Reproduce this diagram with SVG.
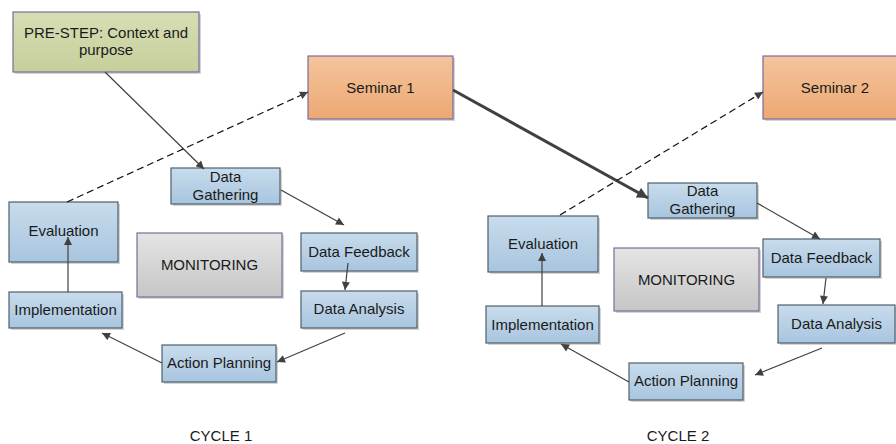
<svg xmlns="http://www.w3.org/2000/svg" width="896" height="444" viewBox="0 0 896 444">
<style>
text{font-family:"Liberation Sans",Arial,sans-serif;font-size:15px;fill:#1a1a1a;text-anchor:middle}
.shadow{fill:#d4d4d4}
.blue{fill:url(#gBlue);stroke:#4f5f6c;stroke-width:1.2}
.orange{fill:url(#gOrange);stroke:#7c6a9c;stroke-width:1.2}
.green{fill:url(#gGreen);stroke:#7c6a9c;stroke-width:1.2}
.gray{fill:url(#gGray);stroke:#7c6a9c;stroke-width:1.2}
.conn{stroke:#404040;stroke-width:1.2;fill:none;marker-end:url(#arr)}
.dash{stroke:#111;stroke-width:1.2;fill:none;stroke-dasharray:7,4;marker-end:url(#arr)}
.thick{stroke:#404040;stroke-width:3;fill:none;marker-end:url(#arrB)}
</style>
<defs>
<linearGradient id="gBlue" x1="0" y1="0" x2="0" y2="1"><stop offset="0" stop-color="#c8dcec"/><stop offset="1" stop-color="#a8c5df"/></linearGradient>
<linearGradient id="gOrange" x1="0" y1="0" x2="0" y2="1"><stop offset="0" stop-color="#f4c49c"/><stop offset="1" stop-color="#eda873"/></linearGradient>
<linearGradient id="gGreen" x1="0" y1="0" x2="0" y2="1"><stop offset="0" stop-color="#d7deb4"/><stop offset="1" stop-color="#c6cf9c"/></linearGradient>
<linearGradient id="gGray" x1="0" y1="0" x2="0" y2="1"><stop offset="0" stop-color="#e4e4e4"/><stop offset="1" stop-color="#c6c6c6"/></linearGradient>
<marker id="arr" viewBox="0 0 10 10" refX="10" refY="5" markerWidth="10" markerHeight="8" markerUnits="userSpaceOnUse" orient="auto"><path d="M0,0 L10,5 L0,10 z" fill="#404040"/></marker>
<marker id="arrB" viewBox="0 0 10 10" refX="10" refY="5" markerWidth="14" markerHeight="11" markerUnits="userSpaceOnUse" orient="auto"><path d="M0,0 L10,5 L0,10 z" fill="#404040"/></marker>
</defs>
<rect width="896" height="444" fill="#fff"/>

<g id="prestep">
<rect class="shadow" x="15" y="14" width="186" height="60"/>
<rect class="green" x="13" y="12" width="186" height="60"/>
<text x="106" y="38">PRE-STEP: Context and</text>
<text x="106" y="55">purpose</text>
</g>

<g id="seminar1">
<rect class="shadow" x="310" y="58" width="145" height="63"/>
<rect class="orange" x="308" y="56" width="145" height="63"/>
<text x="380.5" y="93">Seminar 1</text>
</g>

<g id="seminar2">
<rect class="shadow" x="765" y="58" width="145" height="63"/>
<rect class="orange" x="763" y="56" width="145" height="63"/>
<text x="835" y="93">Seminar 2</text>
</g>

<!-- Cycle 1 -->
<g id="dg1">
<rect class="shadow" x="173" y="170" width="109" height="36"/>
<rect class="blue" x="171" y="168" width="109" height="36"/>
<text x="225.5" y="182">Data</text>
<text x="225.5" y="200">Gathering</text>
</g>
<g id="eval1">
<rect class="shadow" x="11" y="204" width="109" height="60"/>
<rect class="blue" x="9" y="202" width="109" height="60"/>
<text x="63.5" y="236">Evaluation</text>
</g>
<g id="mon1">
<rect class="shadow" x="139" y="235" width="145" height="64"/>
<rect class="gray" x="137" y="233" width="145" height="64"/>
<text x="209.5" y="270">MONITORING</text>
</g>
<g id="df1">
<rect class="shadow" x="303" y="235" width="116" height="38"/>
<rect class="blue" x="301" y="233" width="116" height="38"/>
<text x="359" y="257">Data Feedback</text>
</g>
<g id="da1">
<rect class="shadow" x="303" y="293" width="116" height="37"/>
<rect class="blue" x="301" y="291" width="116" height="37"/>
<text x="359" y="314">Data Analysis</text>
</g>
<g id="impl1">
<rect class="shadow" x="11" y="294" width="113" height="36"/>
<rect class="blue" x="9" y="292" width="113" height="36"/>
<text x="65.5" y="315">Implementation</text>
</g>
<g id="ap1">
<rect class="shadow" x="164" y="347" width="114" height="37"/>
<rect class="blue" x="162" y="345" width="114" height="37"/>
<text x="219" y="368">Action Planning</text>
</g>
<text x="221" y="441">CYCLE 1</text>

<!-- Cycle 2 -->
<g id="dg2">
<rect class="shadow" x="650" y="185" width="109" height="35"/>
<rect class="blue" x="648" y="183" width="109" height="35"/>
<text x="702.5" y="196">Data</text>
<text x="702.5" y="214">Gathering</text>
</g>
<g id="eval2">
<rect class="shadow" x="490" y="218" width="110" height="56"/>
<rect class="blue" x="488" y="216" width="110" height="56"/>
<text x="543" y="249">Evaluation</text>
</g>
<g id="mon2">
<rect class="shadow" x="616" y="250" width="145" height="63"/>
<rect class="gray" x="614" y="248" width="145" height="63"/>
<text x="686.5" y="285">MONITORING</text>
</g>
<g id="df2">
<rect class="shadow" x="765" y="241" width="117" height="38"/>
<rect class="blue" x="763" y="239" width="117" height="38"/>
<text x="821.5" y="263">Data Feedback</text>
</g>
<g id="da2">
<rect class="shadow" x="780" y="307" width="117" height="38"/>
<rect class="blue" x="778" y="305" width="117" height="38"/>
<text x="836.5" y="329">Data Analysis</text>
</g>
<g id="impl2">
<rect class="shadow" x="488" y="308" width="113" height="37"/>
<rect class="blue" x="486" y="306" width="113" height="37"/>
<text x="542.5" y="330">Implementation</text>
</g>
<g id="ap2">
<rect class="shadow" x="631" y="365" width="114" height="37"/>
<rect class="blue" x="629" y="363" width="114" height="37"/>
<text x="686" y="386">Action Planning</text>
</g>
<text x="678" y="441">CYCLE 2</text>

<g id="connectors">
<line class="conn" x1="105" y1="72" x2="204" y2="169"/>
<line class="dash" x1="67" y1="202" x2="308" y2="92"/>
<line class="conn" x1="281" y1="190" x2="344" y2="225"/>
<line class="conn" x1="348" y1="263" x2="345" y2="290"/>
<line class="conn" x1="345" y1="333" x2="277" y2="362"/>
<line class="conn" x1="162" y1="363" x2="102" y2="333"/>
<line class="conn" x1="68" y1="292" x2="68" y2="237"/>

<line class="thick" x1="453" y1="90" x2="648" y2="198"/>
<line class="dash" x1="560" y1="215" x2="763" y2="92"/>
<line class="conn" x1="757" y1="203" x2="820" y2="239"/>
<line class="conn" x1="826" y1="278" x2="823" y2="304"/>
<line class="conn" x1="822" y1="348" x2="755" y2="375"/>
<line class="conn" x1="629" y1="382" x2="561" y2="344"/>
<line class="conn" x1="542" y1="306" x2="542" y2="253"/>
</g>
</svg>
